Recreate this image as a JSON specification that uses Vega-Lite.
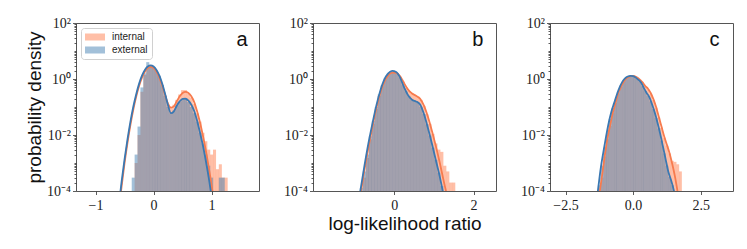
{
  "$schema": "https://vega.github.io/schema/vega-lite/v6.json",
  "background": "white",
  "padding": {"left": 25, "top": 15, "right": 5, "bottom": 5},
  "spacing": 54,
  "bounds": "flush",
  "config": {
    "view": {"stroke": "#555", "strokeWidth": 1},
    "axis": {
      "labelFont": "Liberation Serif", "labelFontSize": 14, "labelColor": "#222",
      "tickColor": "#333", "tickWidth": 0.8, "tickSize": 3.5,
      "domain": false, "grid": false,
      "titleFont": "Liberation Sans", "titleFontSize": 19, "titleFontWeight": "normal", "titleColor": "#111"
    },
    "axisX": {"labelPadding": 4, "titlePadding": 2},
    "axisY": {"labelPadding": 2, "titlePadding": 2},
    "legend": {"labelFont": "Liberation Sans", "labelFontSize": 10, "labelColor": "#222"}
  },
  "datasets": {
    "hist": [
      {"p":"a","s":"internal","x":-0.30,"y":0.001},{"p":"a","s":"internal","x":-0.25,"y":0.01},{"p":"a","s":"internal","x":-0.20,"y":0.35},{"p":"a","s":"internal","x":-0.15,"y":1.4},{"p":"a","s":"internal","x":-0.10,"y":2.8},{"p":"a","s":"internal","x":-0.05,"y":2.8},{"p":"a","s":"internal","x":0.00,"y":2.5},{"p":"a","s":"internal","x":0.05,"y":1.9},{"p":"a","s":"internal","x":0.10,"y":1.2},{"p":"a","s":"internal","x":0.15,"y":0.6},{"p":"a","s":"internal","x":0.20,"y":0.25},{"p":"a","s":"internal","x":0.25,"y":0.12},{"p":"a","s":"internal","x":0.30,"y":0.1},{"p":"a","s":"internal","x":0.35,"y":0.12},{"p":"a","s":"internal","x":0.40,"y":0.18},{"p":"a","s":"internal","x":0.45,"y":0.28},{"p":"a","s":"internal","x":0.50,"y":0.4},{"p":"a","s":"internal","x":0.55,"y":0.4},{"p":"a","s":"internal","x":0.60,"y":0.3},{"p":"a","s":"internal","x":0.65,"y":0.22},{"p":"a","s":"internal","x":0.70,"y":0.13},{"p":"a","s":"internal","x":0.75,"y":0.06},{"p":"a","s":"internal","x":0.80,"y":0.03},{"p":"a","s":"internal","x":0.85,"y":0.012},{"p":"a","s":"internal","x":0.90,"y":0.006},{"p":"a","s":"internal","x":0.95,"y":0.003},{"p":"a","s":"internal","x":1.00,"y":0.002},{"p":"a","s":"internal","x":1.05,"y":0.003},{"p":"a","s":"internal","x":1.10,"y":0.0006},{"p":"a","s":"internal","x":1.15,"y":0.0009},{"p":"a","s":"internal","x":1.20,"y":0.0003},{"p":"a","s":"internal","x":1.25,"y":0.0003},
      {"p":"a","s":"external","x":-0.35,"y":0.0003},{"p":"a","s":"external","x":-0.30,"y":0.002},{"p":"a","s":"external","x":-0.25,"y":0.02},{"p":"a","s":"external","x":-0.20,"y":0.5},{"p":"a","s":"external","x":-0.15,"y":1.6},{"p":"a","s":"external","x":-0.10,"y":4.0},{"p":"a","s":"external","x":-0.05,"y":3.0},{"p":"a","s":"external","x":0.00,"y":2.6},{"p":"a","s":"external","x":0.05,"y":2.0},{"p":"a","s":"external","x":0.10,"y":1.3},{"p":"a","s":"external","x":0.15,"y":0.6},{"p":"a","s":"external","x":0.20,"y":0.25},{"p":"a","s":"external","x":0.25,"y":0.1},{"p":"a","s":"external","x":0.30,"y":0.06},{"p":"a","s":"external","x":0.35,"y":0.075},{"p":"a","s":"external","x":0.40,"y":0.11},{"p":"a","s":"external","x":0.45,"y":0.15},{"p":"a","s":"external","x":0.50,"y":0.19},{"p":"a","s":"external","x":0.55,"y":0.18},{"p":"a","s":"external","x":0.60,"y":0.15},{"p":"a","s":"external","x":0.65,"y":0.1},{"p":"a","s":"external","x":0.70,"y":0.06},{"p":"a","s":"external","x":0.75,"y":0.03},{"p":"a","s":"external","x":0.80,"y":0.012},{"p":"a","s":"external","x":0.85,"y":0.005},{"p":"a","s":"external","x":0.90,"y":0.002},{"p":"a","s":"external","x":0.95,"y":0.0008},{"p":"a","s":"external","x":1.00,"y":0.0003},{"p":"a","s":"external","x":1.15,"y":0.0003},{"p":"a","s":"external","x":1.20,"y":0.0003},
      {"p":"b","s":"internal","x":-0.75,"y":0.0003},{"p":"b","s":"internal","x":-0.675,"y":0.0015},{"p":"b","s":"internal","x":-0.6,"y":0.007},{"p":"b","s":"internal","x":-0.525,"y":0.025},{"p":"b","s":"internal","x":-0.45,"y":0.085},{"p":"b","s":"internal","x":-0.375,"y":0.25},{"p":"b","s":"internal","x":-0.3,"y":0.55},{"p":"b","s":"internal","x":-0.225,"y":0.95},{"p":"b","s":"internal","x":-0.15,"y":1.35},{"p":"b","s":"internal","x":-0.075,"y":1.65},{"p":"b","s":"internal","x":0,"y":1.7},{"p":"b","s":"internal","x":0.075,"y":1.55},{"p":"b","s":"internal","x":0.15,"y":1.2},{"p":"b","s":"internal","x":0.225,"y":0.8},{"p":"b","s":"internal","x":0.3,"y":0.5},{"p":"b","s":"internal","x":0.375,"y":0.37},{"p":"b","s":"internal","x":0.45,"y":0.3},{"p":"b","s":"internal","x":0.525,"y":0.26},{"p":"b","s":"internal","x":0.6,"y":0.23},{"p":"b","s":"internal","x":0.675,"y":0.18},{"p":"b","s":"internal","x":0.75,"y":0.11},{"p":"b","s":"internal","x":0.825,"y":0.055},{"p":"b","s":"internal","x":0.9,"y":0.025},{"p":"b","s":"internal","x":0.975,"y":0.011},{"p":"b","s":"internal","x":1.05,"y":0.005},{"p":"b","s":"internal","x":1.125,"y":0.003},{"p":"b","s":"internal","x":1.2,"y":0.0025},{"p":"b","s":"internal","x":1.275,"y":0.0008},{"p":"b","s":"internal","x":1.35,"y":0.0005},{"p":"b","s":"internal","x":1.425,"y":0.0002},{"p":"b","s":"internal","x":1.5,"y":0.0002},
      {"p":"b","s":"external","x":-0.825,"y":0.00013},{"p":"b","s":"external","x":-0.75,"y":0.0005},{"p":"b","s":"external","x":-0.675,"y":0.002},{"p":"b","s":"external","x":-0.6,"y":0.009},{"p":"b","s":"external","x":-0.525,"y":0.032},{"p":"b","s":"external","x":-0.45,"y":0.1},{"p":"b","s":"external","x":-0.375,"y":0.28},{"p":"b","s":"external","x":-0.3,"y":0.6},{"p":"b","s":"external","x":-0.225,"y":1.1},{"p":"b","s":"external","x":-0.15,"y":1.55},{"p":"b","s":"external","x":-0.075,"y":1.85},{"p":"b","s":"external","x":0,"y":1.85},{"p":"b","s":"external","x":0.075,"y":1.6},{"p":"b","s":"external","x":0.15,"y":1.12},{"p":"b","s":"external","x":0.225,"y":0.6},{"p":"b","s":"external","x":0.3,"y":0.36},{"p":"b","s":"external","x":0.375,"y":0.24},{"p":"b","s":"external","x":0.45,"y":0.18},{"p":"b","s":"external","x":0.525,"y":0.16},{"p":"b","s":"external","x":0.6,"y":0.14},{"p":"b","s":"external","x":0.675,"y":0.1},{"p":"b","s":"external","x":0.75,"y":0.056},{"p":"b","s":"external","x":0.825,"y":0.024},{"p":"b","s":"external","x":0.9,"y":0.0095},{"p":"b","s":"external","x":0.975,"y":0.0035},{"p":"b","s":"external","x":1.05,"y":0.0013},{"p":"b","s":"external","x":1.125,"y":0.00045},{"p":"b","s":"external","x":1.2,"y":0.00015},
      {"p":"c","s":"internal","x":-1.15,"y":0.0003},{"p":"c","s":"internal","x":-1.05,"y":0.0017},{"p":"c","s":"internal","x":-0.95,"y":0.007},{"p":"c","s":"internal","x":-0.85,"y":0.021},{"p":"c","s":"internal","x":-0.75,"y":0.06},{"p":"c","s":"internal","x":-0.65,"y":0.14},{"p":"c","s":"internal","x":-0.55,"y":0.3},{"p":"c","s":"internal","x":-0.45,"y":0.52},{"p":"c","s":"internal","x":-0.35,"y":0.78},{"p":"c","s":"internal","x":-0.25,"y":1.02},{"p":"c","s":"internal","x":-0.15,"y":1.18},{"p":"c","s":"internal","x":-0.05,"y":1.27},{"p":"c","s":"internal","x":0.05,"y":1.25},{"p":"c","s":"internal","x":0.15,"y":1.1},{"p":"c","s":"internal","x":0.25,"y":0.93},{"p":"c","s":"internal","x":0.35,"y":0.74},{"p":"c","s":"internal","x":0.45,"y":0.55},{"p":"c","s":"internal","x":0.55,"y":0.43},{"p":"c","s":"internal","x":0.65,"y":0.3},{"p":"c","s":"internal","x":0.75,"y":0.18},{"p":"c","s":"internal","x":0.85,"y":0.095},{"p":"c","s":"internal","x":0.95,"y":0.042},{"p":"c","s":"internal","x":1.05,"y":0.018},{"p":"c","s":"internal","x":1.15,"y":0.008},{"p":"c","s":"internal","x":1.25,"y":0.0042},{"p":"c","s":"internal","x":1.35,"y":0.0022},{"p":"c","s":"internal","x":1.45,"y":0.0012},{"p":"c","s":"internal","x":1.55,"y":0.0011},{"p":"c","s":"internal","x":1.65,"y":0.0009},{"p":"c","s":"internal","x":1.75,"y":0.0005},
      {"p":"c","s":"external","x":-1.25,"y":0.00016},{"p":"c","s":"external","x":-1.15,"y":0.0008},{"p":"c","s":"external","x":-1.05,"y":0.0035},{"p":"c","s":"external","x":-0.95,"y":0.0125},{"p":"c","s":"external","x":-0.85,"y":0.038},{"p":"c","s":"external","x":-0.75,"y":0.09},{"p":"c","s":"external","x":-0.65,"y":0.18},{"p":"c","s":"external","x":-0.55,"y":0.35},{"p":"c","s":"external","x":-0.45,"y":0.6},{"p":"c","s":"external","x":-0.35,"y":0.9},{"p":"c","s":"external","x":-0.25,"y":1.1},{"p":"c","s":"external","x":-0.15,"y":1.23},{"p":"c","s":"external","x":-0.05,"y":1.26},{"p":"c","s":"external","x":0.05,"y":1.17},{"p":"c","s":"external","x":0.15,"y":1.0},{"p":"c","s":"external","x":0.25,"y":0.8},{"p":"c","s":"external","x":0.35,"y":0.56},{"p":"c","s":"external","x":0.45,"y":0.37},{"p":"c","s":"external","x":0.55,"y":0.25},{"p":"c","s":"external","x":0.65,"y":0.16},{"p":"c","s":"external","x":0.75,"y":0.085},{"p":"c","s":"external","x":0.85,"y":0.04},{"p":"c","s":"external","x":0.95,"y":0.017},{"p":"c","s":"external","x":1.05,"y":0.0063},{"p":"c","s":"external","x":1.15,"y":0.0022},{"p":"c","s":"external","x":1.25,"y":0.0008},{"p":"c","s":"external","x":1.35,"y":0.00032},{"p":"c","s":"external","x":1.45,"y":0.00016}
    ],
    "kde": [
      {"p":"a","s":"internal","x":-0.6,"y":0.00002},{"p":"a","s":"internal","x":-0.55,"y":0.00015},{"p":"a","s":"internal","x":-0.5,"y":0.00098},{"p":"a","s":"internal","x":-0.45,"y":0.0051},{"p":"a","s":"internal","x":-0.4,"y":0.022},{"p":"a","s":"internal","x":-0.35,"y":0.079},{"p":"a","s":"internal","x":-0.3,"y":0.23},{"p":"a","s":"internal","x":-0.25,"y":0.56},{"p":"a","s":"internal","x":-0.2,"y":1.12},{"p":"a","s":"internal","x":-0.15,"y":1.82},{"p":"a","s":"internal","x":-0.1,"y":2.44},{"p":"a","s":"internal","x":-0.05,"y":2.69},{"p":"a","s":"internal","x":0,"y":2.44},{"p":"a","s":"internal","x":0.05,"y":1.82},{"p":"a","s":"internal","x":0.1,"y":1.12},{"p":"a","s":"internal","x":0.15,"y":0.57},{"p":"a","s":"internal","x":0.2,"y":0.26},{"p":"a","s":"internal","x":0.25,"y":0.13},{"p":"a","s":"internal","x":0.3,"y":0.095},{"p":"a","s":"internal","x":0.35,"y":0.105},{"p":"a","s":"internal","x":0.4,"y":0.16},{"p":"a","s":"internal","x":0.45,"y":0.24},{"p":"a","s":"internal","x":0.5,"y":0.316},{"p":"a","s":"internal","x":0.55,"y":0.347},{"p":"a","s":"internal","x":0.6,"y":0.316},{"p":"a","s":"internal","x":0.65,"y":0.24},{"p":"a","s":"internal","x":0.7,"y":0.15},{"p":"a","s":"internal","x":0.75,"y":0.07},{"p":"a","s":"internal","x":0.8,"y":0.028},{"p":"a","s":"internal","x":0.85,"y":0.0095},{"p":"a","s":"internal","x":0.9,"y":0.0028},{"p":"a","s":"internal","x":0.95,"y":0.0007},{"p":"a","s":"internal","x":1.0,"y":0.00016},{"p":"a","s":"internal","x":1.05,"y":0.000025},
      {"p":"a","s":"external","x":-0.6,"y":0.000029},{"p":"a","s":"external","x":-0.55,"y":0.00022},{"p":"a","s":"external","x":-0.5,"y":0.00135},{"p":"a","s":"external","x":-0.45,"y":0.0068},{"p":"a","s":"external","x":-0.4,"y":0.029},{"p":"a","s":"external","x":-0.35,"y":0.1},{"p":"a","s":"external","x":-0.3,"y":0.28},{"p":"a","s":"external","x":-0.25,"y":0.67},{"p":"a","s":"external","x":-0.2,"y":1.31},{"p":"a","s":"external","x":-0.15,"y":2.1},{"p":"a","s":"external","x":-0.1,"y":2.8},{"p":"a","s":"external","x":-0.05,"y":3.09},{"p":"a","s":"external","x":0,"y":2.8},{"p":"a","s":"external","x":0.05,"y":2.1},{"p":"a","s":"external","x":0.1,"y":1.31},{"p":"a","s":"external","x":0.15,"y":0.67},{"p":"a","s":"external","x":0.2,"y":0.285},{"p":"a","s":"external","x":0.25,"y":0.113},{"p":"a","s":"external","x":0.3,"y":0.06},{"p":"a","s":"external","x":0.35,"y":0.07},{"p":"a","s":"external","x":0.4,"y":0.111},{"p":"a","s":"external","x":0.45,"y":0.158},{"p":"a","s":"external","x":0.5,"y":0.195},{"p":"a","s":"external","x":0.55,"y":0.197},{"p":"a","s":"external","x":0.6,"y":0.168},{"p":"a","s":"external","x":0.65,"y":0.12},{"p":"a","s":"external","x":0.7,"y":0.072},{"p":"a","s":"external","x":0.75,"y":0.032},{"p":"a","s":"external","x":0.8,"y":0.012},{"p":"a","s":"external","x":0.85,"y":0.0042},{"p":"a","s":"external","x":0.9,"y":0.0012},{"p":"a","s":"external","x":0.95,"y":0.0003},{"p":"a","s":"external","x":1.0,"y":0.00006},{"p":"a","s":"external","x":1.05,"y":0.00001},
      {"p":"b","s":"internal","x":-0.95,"y":0.0000126},{"p":"b","s":"internal","x":-0.85,"y":0.000071},{"p":"b","s":"internal","x":-0.75,"y":0.00056},{"p":"b","s":"internal","x":-0.65,"y":0.0035},{"p":"b","s":"internal","x":-0.55,"y":0.019},{"p":"b","s":"internal","x":-0.45,"y":0.089},{"p":"b","s":"internal","x":-0.35,"y":0.316},{"p":"b","s":"internal","x":-0.25,"y":0.79},{"p":"b","s":"internal","x":-0.15,"y":1.35},{"p":"b","s":"internal","x":-0.05,"y":1.7},{"p":"b","s":"internal","x":0.05,"y":1.66},{"p":"b","s":"internal","x":0.15,"y":1.26},{"p":"b","s":"internal","x":0.25,"y":0.71},{"p":"b","s":"internal","x":0.35,"y":0.417},{"p":"b","s":"internal","x":0.45,"y":0.302},{"p":"b","s":"internal","x":0.55,"y":0.251},{"p":"b","s":"internal","x":0.65,"y":0.2},{"p":"b","s":"internal","x":0.75,"y":0.112},{"p":"b","s":"internal","x":0.85,"y":0.0447},{"p":"b","s":"internal","x":0.95,"y":0.0141},{"p":"b","s":"internal","x":1.05,"y":0.004},{"p":"b","s":"internal","x":1.15,"y":0.001},{"p":"b","s":"internal","x":1.25,"y":0.00022},{"p":"b","s":"internal","x":1.35,"y":0.00005},{"p":"b","s":"internal","x":1.4,"y":0.00002},
      {"p":"b","s":"external","x":-0.95,"y":0.000016},{"p":"b","s":"external","x":-0.85,"y":0.000107},{"p":"b","s":"external","x":-0.75,"y":0.00079},{"p":"b","s":"external","x":-0.65,"y":0.005},{"p":"b","s":"external","x":-0.55,"y":0.025},{"p":"b","s":"external","x":-0.45,"y":0.112},{"p":"b","s":"external","x":-0.35,"y":0.38},{"p":"b","s":"external","x":-0.25,"y":0.95},{"p":"b","s":"external","x":-0.15,"y":1.58},{"p":"b","s":"external","x":-0.05,"y":1.95},{"p":"b","s":"external","x":0.05,"y":1.78},{"p":"b","s":"external","x":0.15,"y":1.12},{"p":"b","s":"external","x":0.25,"y":0.5},{"p":"b","s":"external","x":0.35,"y":0.263},{"p":"b","s":"external","x":0.45,"y":0.182},{"p":"b","s":"external","x":0.55,"y":0.158},{"p":"b","s":"external","x":0.65,"y":0.126},{"p":"b","s":"external","x":0.75,"y":0.056},{"p":"b","s":"external","x":0.85,"y":0.0178},{"p":"b","s":"external","x":0.95,"y":0.005},{"p":"b","s":"external","x":1.05,"y":0.00126},{"p":"b","s":"external","x":1.15,"y":0.00032},{"p":"b","s":"external","x":1.25,"y":0.000063},{"p":"b","s":"external","x":1.3,"y":0.000025},
      {"p":"c","s":"internal","x":-1.35,"y":0.000025},{"p":"c","s":"internal","x":-1.25,"y":0.000079},{"p":"c","s":"internal","x":-1.15,"y":0.00035},{"p":"c","s":"internal","x":-1.05,"y":0.0018},{"p":"c","s":"internal","x":-0.95,"y":0.0076},{"p":"c","s":"internal","x":-0.85,"y":0.0224},{"p":"c","s":"internal","x":-0.75,"y":0.063},{"p":"c","s":"internal","x":-0.65,"y":0.141},{"p":"c","s":"internal","x":-0.55,"y":0.316},{"p":"c","s":"internal","x":-0.45,"y":0.525},{"p":"c","s":"internal","x":-0.35,"y":0.79},{"p":"c","s":"internal","x":-0.25,"y":1.05},{"p":"c","s":"internal","x":-0.15,"y":1.2},{"p":"c","s":"internal","x":-0.05,"y":1.29},{"p":"c","s":"internal","x":0.05,"y":1.26},{"p":"c","s":"internal","x":0.15,"y":1.12},{"p":"c","s":"internal","x":0.25,"y":0.95},{"p":"c","s":"internal","x":0.35,"y":0.76},{"p":"c","s":"internal","x":0.45,"y":0.56},{"p":"c","s":"internal","x":0.55,"y":0.45},{"p":"c","s":"internal","x":0.65,"y":0.316},{"p":"c","s":"internal","x":0.75,"y":0.19},{"p":"c","s":"internal","x":0.85,"y":0.1},{"p":"c","s":"internal","x":0.95,"y":0.045},{"p":"c","s":"internal","x":1.05,"y":0.02},{"p":"c","s":"internal","x":1.15,"y":0.0089},{"p":"c","s":"internal","x":1.25,"y":0.0045},{"p":"c","s":"internal","x":1.35,"y":0.0022},{"p":"c","s":"internal","x":1.45,"y":0.0009},{"p":"c","s":"internal","x":1.55,"y":0.00032},{"p":"c","s":"internal","x":1.65,"y":0.000089},{"p":"c","s":"internal","x":1.75,"y":0.000025},
      {"p":"c","s":"external","x":-1.4,"y":0.00002},{"p":"c","s":"external","x":-1.3,"y":0.000107},{"p":"c","s":"external","x":-1.2,"y":0.00063},{"p":"c","s":"external","x":-1.1,"y":0.0025},{"p":"c","s":"external","x":-1.0,"y":0.0089},{"p":"c","s":"external","x":-0.9,"y":0.028},{"p":"c","s":"external","x":-0.8,"y":0.071},{"p":"c","s":"external","x":-0.7,"y":0.141},{"p":"c","s":"external","x":-0.6,"y":0.28},{"p":"c","s":"external","x":-0.5,"y":0.5},{"p":"c","s":"external","x":-0.4,"y":0.79},{"p":"c","s":"external","x":-0.3,"y":1.05},{"p":"c","s":"external","x":-0.2,"y":1.23},{"p":"c","s":"external","x":-0.1,"y":1.29},{"p":"c","s":"external","x":0,"y":1.26},{"p":"c","s":"external","x":0.1,"y":1.12},{"p":"c","s":"external","x":0.2,"y":0.93},{"p":"c","s":"external","x":0.3,"y":0.74},{"p":"c","s":"external","x":0.4,"y":0.47},{"p":"c","s":"external","x":0.5,"y":0.316},{"p":"c","s":"external","x":0.6,"y":0.224},{"p":"c","s":"external","x":0.7,"y":0.126},{"p":"c","s":"external","x":0.8,"y":0.063},{"p":"c","s":"external","x":0.9,"y":0.028},{"p":"c","s":"external","x":1.0,"y":0.0112},{"p":"c","s":"external","x":1.1,"y":0.004},{"p":"c","s":"external","x":1.2,"y":0.0014},{"p":"c","s":"external","x":1.3,"y":0.0005},{"p":"c","s":"external","x":1.4,"y":0.00025},{"p":"c","s":"external","x":1.5,"y":0.000112},{"p":"c","s":"external","x":1.6,"y":0.00004}
    ]
  },
  "resolve": {"scale": {"x": "independent", "y": "independent", "color": "independent", "stroke": "independent"}, "legend": {"color": "independent", "stroke": "independent"}},
  "hconcat": [
    {
      "width": 183, "height": 168,
      "layer": [
        {
          "data": {"name": "hist"},
          "transform": [{"filter": "datum.p == 'a'"}],
          "mark": {"type": "bar", "width": 3.05, "opacity": 0.5},
          "encoding": {
            "x": {"field": "x", "type": "quantitative", "scale": {"domain": [-1.25, 1.73], "nice": false, "zero": false}, "axis": {"values": [-1, 0, 1], "format": "d", "title": null}},
            "y": {"field": "y", "type": "quantitative", "scale": {"type": "log", "domain": [0.0001, 100]},
                  "axis": {"title": "probability density", "values": [0.0001,0.0002,0.0003,0.0004,0.0005,0.0006,0.0007,0.0008,0.0009,0.001,0.002,0.003,0.004,0.005,0.006,0.007,0.008,0.009,0.01,0.02,0.03,0.04,0.05,0.06,0.07,0.08,0.09,0.1,0.2,0.3,0.4,0.5,0.6,0.7,0.8,0.9,1,2,3,4,5,6,7,8,9,10,20,30,40,50,60,70,80,90,100],
                           "labelExpr": "datum.value > 99 ? '10²' : abs(datum.value - 1) < 1e-9 ? '10⁰' : abs(datum.value - 0.01) < 1e-11 ? '10⁻²' : abs(datum.value - 0.0001) < 1e-13 ? '10⁻⁴' : ''",
                           "tickSize": {"condition": {"test": "abs(datum.value - 100) < 1e-6 || abs(datum.value - 1) < 1e-9 || abs(datum.value - 0.01) < 1e-11 || abs(datum.value - 0.0001) < 1e-13", "value": 3.5}, "value": 2}}},
            "y2": {"datum": 0.0001},
            "color": {"field": "s", "type": "nominal", "scale": {"domain": ["internal", "external"], "range": ["#ff7f50", "#4682b4"]},
                      "legend": {"title": null, "orient": "top-left", "offset": 5, "padding": 4, "fillColor": "white", "strokeColor": "#d0d0d0", "cornerRadius": 3, "symbolType": "M-2,-0.7L2,-0.7L2,0.7L-2,0.7Z", "symbolSize": 100, "symbolStrokeWidth": 0, "symbolOffset": 5, "labelOffset": 12, "rowPadding": 3}}
          }
        },
        {
          "data": {"name": "kde"},
          "transform": [{"filter": "datum.p == 'a'"}],
          "mark": {"type": "line", "clip": true, "strokeWidth": 1.8, "interpolate": "monotone"},
          "encoding": {
            "x": {"field": "x", "type": "quantitative"},
            "y": {"field": "y", "type": "quantitative"},
            "stroke": {"field": "s", "type": "nominal", "scale": {"domain": ["internal", "external"], "range": ["#f77b4e", "#3a78b2"]}, "legend": null}
          }
        },
        {
          "data": {"values": [{"l": "a"}]},
          "mark": {"type": "text", "align": "right", "baseline": "alphabetic", "font": "Liberation Sans", "fontSize": 20, "color": "#111"},
          "encoding": {"text": {"field": "l"}, "x": {"datum": 1.62}, "y": {"datum": 15}}
        }
      ]
    },
    {
      "width": 183, "height": 168,
      "layer": [
        {
          "data": {"name": "hist"},
          "transform": [{"filter": "datum.p == 'b'"}],
          "mark": {"type": "bar", "width": 3.17, "opacity": 0.5},
          "encoding": {
            "x": {"field": "x", "type": "quantitative", "scale": {"domain": [-1.92, 2.44], "nice": false, "zero": false}, "axis": {"values": [0, 2], "format": "d", "title": "log-likelihood ratio"}},
            "y": {"field": "y", "type": "quantitative", "scale": {"type": "log", "domain": [0.0001, 100]},
                  "axis": {"title": null, "values": [0.0001,0.0002,0.0003,0.0004,0.0005,0.0006,0.0007,0.0008,0.0009,0.001,0.002,0.003,0.004,0.005,0.006,0.007,0.008,0.009,0.01,0.02,0.03,0.04,0.05,0.06,0.07,0.08,0.09,0.1,0.2,0.3,0.4,0.5,0.6,0.7,0.8,0.9,1,2,3,4,5,6,7,8,9,10,20,30,40,50,60,70,80,90,100],
                           "labelExpr": "datum.value > 99 ? '10²' : abs(datum.value - 1) < 1e-9 ? '10⁰' : abs(datum.value - 0.01) < 1e-11 ? '10⁻²' : abs(datum.value - 0.0001) < 1e-13 ? '10⁻⁴' : ''",
                           "tickSize": {"condition": {"test": "abs(datum.value - 100) < 1e-6 || abs(datum.value - 1) < 1e-9 || abs(datum.value - 0.01) < 1e-11 || abs(datum.value - 0.0001) < 1e-13", "value": 3.5}, "value": 2}}},
            "y2": {"datum": 0.0001},
            "color": {"field": "s", "type": "nominal", "scale": {"domain": ["internal", "external"], "range": ["#ff7f50", "#4682b4"]}, "legend": null}
          }
        },
        {
          "data": {"name": "kde"},
          "transform": [{"filter": "datum.p == 'b'"}],
          "mark": {"type": "line", "clip": true, "strokeWidth": 1.8, "interpolate": "monotone"},
          "encoding": {
            "x": {"field": "x", "type": "quantitative"},
            "y": {"field": "y", "type": "quantitative"},
            "stroke": {"field": "s", "type": "nominal", "scale": {"domain": ["internal", "external"], "range": ["#f77b4e", "#3a78b2"]}, "legend": null}
          }
        },
        {
          "data": {"values": [{"l": "b"}]},
          "mark": {"type": "text", "align": "right", "baseline": "alphabetic", "font": "Liberation Sans", "fontSize": 20, "color": "#111"},
          "encoding": {"text": {"field": "l"}, "x": {"datum": 2.25}, "y": {"datum": 15}}
        }
      ]
    },
    {
      "width": 183, "height": 168,
      "layer": [
        {
          "data": {"name": "hist"},
          "transform": [{"filter": "datum.p == 'c'"}],
          "mark": {"type": "bar", "width": 2.85, "opacity": 0.5},
          "encoding": {
            "x": {"field": "x", "type": "quantitative", "scale": {"domain": [-2.89, 3.51], "nice": false, "zero": false}, "axis": {"values": [-2.5, 0, 2.5], "format": ".1f", "title": null}},
            "y": {"field": "y", "type": "quantitative", "scale": {"type": "log", "domain": [0.0001, 100]},
                  "axis": {"title": null, "values": [0.0001,0.0002,0.0003,0.0004,0.0005,0.0006,0.0007,0.0008,0.0009,0.001,0.002,0.003,0.004,0.005,0.006,0.007,0.008,0.009,0.01,0.02,0.03,0.04,0.05,0.06,0.07,0.08,0.09,0.1,0.2,0.3,0.4,0.5,0.6,0.7,0.8,0.9,1,2,3,4,5,6,7,8,9,10,20,30,40,50,60,70,80,90,100],
                           "labelExpr": "datum.value > 99 ? '10²' : abs(datum.value - 1) < 1e-9 ? '10⁰' : abs(datum.value - 0.01) < 1e-11 ? '10⁻²' : abs(datum.value - 0.0001) < 1e-13 ? '10⁻⁴' : ''",
                           "tickSize": {"condition": {"test": "abs(datum.value - 100) < 1e-6 || abs(datum.value - 1) < 1e-9 || abs(datum.value - 0.01) < 1e-11 || abs(datum.value - 0.0001) < 1e-13", "value": 3.5}, "value": 2}}},
            "y2": {"datum": 0.0001},
            "color": {"field": "s", "type": "nominal", "scale": {"domain": ["internal", "external"], "range": ["#ff7f50", "#4682b4"]}, "legend": null}
          }
        },
        {
          "data": {"name": "kde"},
          "transform": [{"filter": "datum.p == 'c'"}],
          "mark": {"type": "line", "clip": true, "strokeWidth": 1.8, "interpolate": "monotone"},
          "encoding": {
            "x": {"field": "x", "type": "quantitative"},
            "y": {"field": "y", "type": "quantitative"},
            "stroke": {"field": "s", "type": "nominal", "scale": {"domain": ["internal", "external"], "range": ["#f77b4e", "#3a78b2"]}, "legend": null}
          }
        },
        {
          "data": {"values": [{"l": "c"}]},
          "mark": {"type": "text", "align": "right", "baseline": "alphabetic", "font": "Liberation Sans", "fontSize": 20, "color": "#111"},
          "encoding": {"text": {"field": "l"}, "x": {"datum": 3.2}, "y": {"datum": 15}}
        }
      ]
    }
  ]
}
